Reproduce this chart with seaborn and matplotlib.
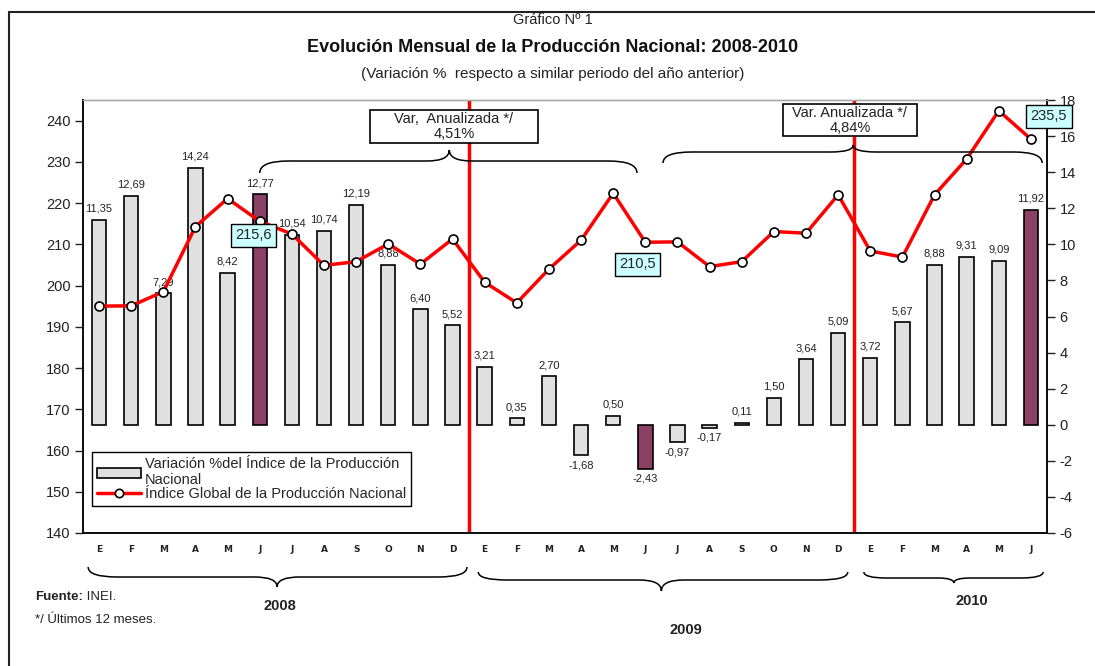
import pandas as pd
import seaborn as sns
import matplotlib.pyplot as plt
from matplotlib.path import Path
from matplotlib.patches import PathPatch, Patch, Rectangle
from matplotlib.lines import Line2D
from matplotlib.transforms import blended_transform_factory

# datos
meses = ['E', 'F', 'M', 'A', 'M', 'J', 'J', 'A', 'S', 'O', 'N', 'D',
         'E', 'F', 'M', 'A', 'M', 'J', 'J', 'A', 'S', 'O', 'N', 'D',
         'E', 'F', 'M', 'A', 'M', 'J']
anios = ['2008', '2009', '2010']
variacion = [11.35, 12.69, 7.29, 14.24, 8.42, 12.77, 10.54, 10.74, 12.19, 8.88, 6.40, 5.52,
             3.21, 0.35, 2.70, -1.68, 0.50, -2.43, -0.97, -0.17, 0.11, 1.50, 3.64, 5.09,
             3.72, 5.67, 8.88, 9.31, 9.09, 11.92]
indice = [195.0, 195.1, 198.5, 214.3, 221.1, 215.6, 212.5, 204.9, 205.8, 210.1, 205.2, 211.3,
          200.8, 195.8, 204.0, 211.0, 222.4, 210.5, 210.6, 204.6, 205.8, 213.1, 212.7, 222.0,
          208.4, 206.9, 222.0, 230.7, 242.4, 235.5]
var_anualizada = ['4,51%', '4,84%']

W, H = 1095, 666
fx = lambda x: x / W
fy = lambda y: 1 - y / H

df = pd.DataFrame({'pos': range(len(meses)), 'mes': meses,
                   'variacion': variacion, 'indice': indice})
df['tipo'] = ['junio' if i % 12 == 5 else 'mes' for i in df['pos']]

sns.set_theme(style='white')
plt.rcParams['font.family'] = ['Liberation Sans', 'DejaVu Sans']
plt.rcParams['axes.unicode_minus'] = False

fig = plt.figure(figsize=(W / 100, H / 100), dpi=100)
ax = fig.add_axes([fx(83), fy(533), fx(1047) - fx(83), fy(100) - fy(533)])

# barras: variación %
sns.barplot(data=df, x='pos', y='variacion', hue='tipo', native_scale=True,
            palette={'mes': '#E0E0E0', 'junio': '#993366'}, dodge=False,
            width=0.45, edgecolor='black', linewidth=1.2, errorbar=None,
            legend=False, ax=ax)
for p, v in zip(df['pos'], df['variacion']):
    txt = ('%.2f' % v).replace('.', ',')
    ax.annotate(txt, (p, v), xytext=(0, 6 if v >= 0 else -5), textcoords='offset pixels',
                ha='center', va='bottom' if v >= 0 else 'top', fontsize=8, color='#222222')

ax2 = ax.twinx()
ax.yaxis.tick_right()
ax2.yaxis.tick_left()

# línea: índice global
sns.lineplot(data=df, x='pos', y='indice', color='red', lw=2.5, marker='o', ms=6.5,
             mfc='white', mec='black', mew=1.2, legend=False, ax=ax2)

ax.set_ylim(-6, 18)
ax.set_yticks(range(-6, 19, 2))
ax2.set_ylim(140, 245)
ax2.set_yticks(range(140, 241, 10))
ax.set_xlim(-0.5, len(meses) - 0.5)
ax.set_xticks(df['pos'])
ax.set_xticklabels(meses, fontsize=6.5, fontweight='bold', family='DejaVu Sans', color='#222222')
ax.tick_params(axis='x', length=0, pad=9)
ax.tick_params(axis='y', right=True, left=False, length=6, width=1, direction='out',
               labelsize=10.5, colors='#222222', pad=3)
ax2.tick_params(axis='y', left=True, right=False, length=6, width=1, direction='out',
                labelsize=10.5, colors='#222222', pad=3)
for a in (ax, ax2):
    a.set_xlabel('')
    a.set_ylabel('')
    for s in ['left', 'right', 'bottom']:
        a.spines[s].set_color('#111111')
        a.spines[s].set_linewidth(1.4)
    a.spines['top'].set_color('#aaaaaa')
    a.spines['top'].set_linewidth(1)

# separadores de año
for xv in (11.5, 23.5):
    ax2.axvline(xv, color='red', lw=2.5)

# etiquetas de junio
offsets = {5: (-6, -14), 17: (-8, -22), 29: (18, 23)}
for p, (dx, dy) in offsets.items():
    ax2.annotate(('%.1f' % indice[p]).replace('.', ','), (p, indice[p]),
                 xytext=(dx, dy), textcoords='offset pixels', ha='center', va='center',
                 fontsize=10.5, color='#222222', annotation_clip=False,
                 bbox=dict(boxstyle='square,pad=0.3', fc='#CCFFFF', ec='black', lw=1))

# llaves
tr = blended_transform_factory(ax.transData, fig.transFigure)


def brace(x0, x1, xt, ye, ym, yt, r=0.9, rt=0.7):
    ye, ym, yt = fy(ye), fy(ym), fy(yt)
    verts = [(x0, ye), (x0, ym), (x0 + r, ym), (xt - rt, ym), (xt, ym), (xt, yt),
             (xt, ym), (xt + rt, ym), (x1 - r, ym), (x1, ym), (x1, ye)]
    codes = [Path.MOVETO, Path.CURVE3, Path.CURVE3, Path.LINETO, Path.CURVE3, Path.CURVE3,
             Path.CURVE3, Path.CURVE3, Path.LINETO, Path.CURVE3, Path.CURVE3]
    fig.add_artist(PathPatch(Path(verts, codes), transform=tr, fc='none', ec='black',
                             lw=1.1, clip_on=False))


brace(5.0, 16.74, 10.9, 173, 161, 150)
brace(17.55, 29.35, 23.47, 163, 152, 145)
brace(-0.34, 11.45, 5.54, 567, 577, 587)
brace(11.8, 23.3, 17.5, 572, 580, 591)
brace(23.8, 29.38, 26.6, 572, 578, 583, r=0.7, rt=0.5)

# cuadros de variación anualizada
for (x0, y0, x1, y1), lab1, val in [((370, 110, 538, 143), 'Var,  Anualizada */', var_anualizada[0]),
                                    ((783, 104, 917, 136), 'Var. Anualizada */', var_anualizada[1])]:
    fig.add_artist(Rectangle((fx(x0), fy(y1)), fx(x1) - fx(x0), fy(y0) - fy(y1),
                             transform=fig.transFigure, fc='white', ec='black', lw=1.2))
    cx = (x0 + x1) / 2
    fig.text(fx(cx), fy(y0 + 9), lab1, ha='center', va='center', fontsize=10.5, color='#222222')
    fig.text(fx(cx), fy(y0 + 24), val, ha='center', va='center', fontsize=10.5, color='#222222')

# leyenda
handles = [Patch(fc='#E0E0E0', ec='black', lw=1.2),
           Line2D([], [], color='red', lw=2.5, marker='o', ms=6, mfc='white', mec='black', mew=1.2)]
labels = ['Variación %del Índice de la Producción\nNacional',
          'Índice Global de la Producción Nacional']
leg = ax2.legend(handles, labels, loc='upper left', bbox_to_anchor=(0.009, 0.187),
                 borderaxespad=0, fontsize=10.5, handlelength=3.0, handletextpad=0.3,
                 labelspacing=0.0, borderpad=0.35, fancybox=False, framealpha=1)
leg.get_frame().set_edgecolor('black')
leg.get_frame().set_linewidth(1)

# años
for lab, x, y in zip(anios, [280, 686, 972], [606, 630, 601]):
    fig.text(fx(x), fy(y), lab, ha='center', va='center', fontsize=10.5, fontweight='bold',
             color='#222222')

# títulos
fig.text(fx(553), fy(20), 'Gráfico Nº 1', ha='center', va='center', fontsize=10.5, color='#222222')
fig.text(fx(553), fy(48), 'Evolución Mensual de la Producción Nacional: 2008-2010',
         ha='center', va='center', fontsize=13, fontweight='bold', color='#111111')
fig.text(fx(553), fy(74), '(Variación %  respecto a similar periodo del año anterior)',
         ha='center', va='center', fontsize=11, color='#222222')

# notas
t1 = fig.text(fx(35), fy(597), 'Fuente:', ha='left', va='center', fontsize=9.5,
              fontweight='bold', color='#222222')
fig.text(fx(35), fy(620), '*/ Últimos 12 meses.', ha='left', va='center', fontsize=9.5,
         color='#222222')
ax.annotate(' INEI.', xy=(1, 0), xycoords=t1, va='bottom', fontsize=9.5, color='#222222',
            annotation_clip=False)

# marco
fig.add_artist(Line2D([fx(9), 1], [fy(12), fy(12)], transform=fig.transFigure, color='#222222', lw=1.5))
fig.add_artist(Line2D([fx(9), fx(9)], [fy(12), 0], transform=fig.transFigure, color='#222222', lw=1.5))

fig.savefig('out.png', dpi=100)
